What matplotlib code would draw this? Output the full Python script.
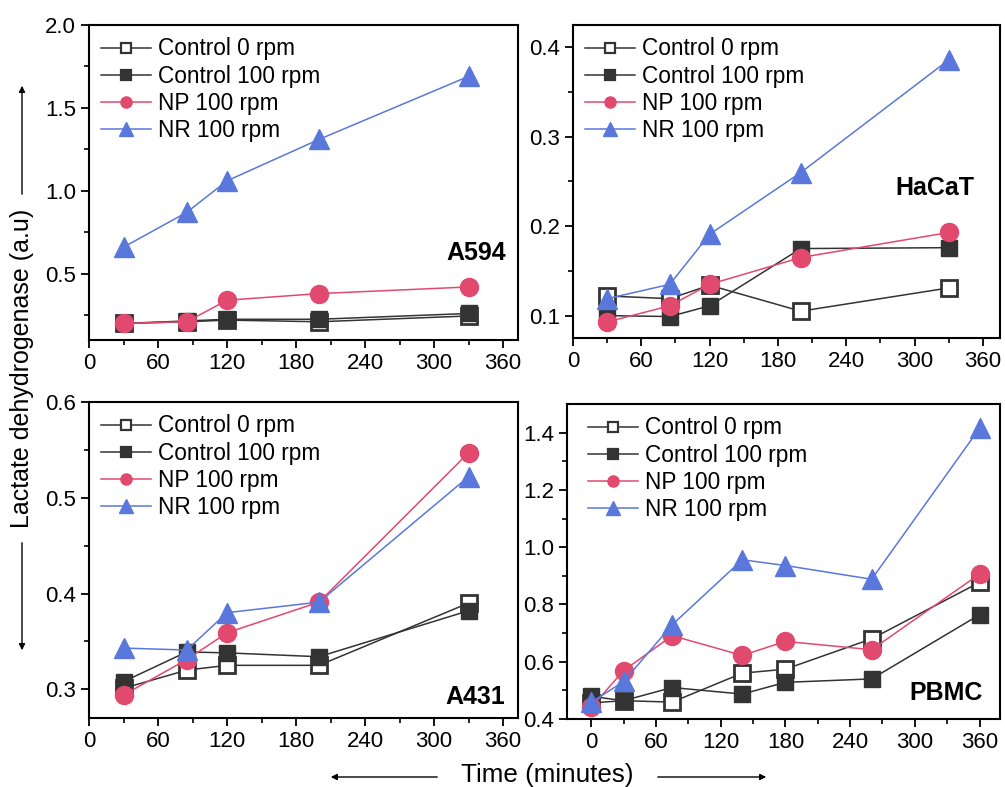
import numpy as np
import matplotlib
matplotlib.use("Agg")
import matplotlib.pyplot as plt
from matplotlib.patches import FancyArrowPatch

plt.rcParams['font.family'] = ['Liberation Sans', 'DejaVu Sans']

# data
t_std = [30, 85, 120, 200, 330]
t_pbmc = [0, 30, 75, 140, 180, 260, 360]

a594_c0 = [0.20, 0.21, 0.22, 0.21, 0.245]
a594_c100 = [0.20, 0.215, 0.225, 0.225, 0.26]
a594_np = [0.20, 0.21, 0.34, 0.38, 0.42]
a594_nr = [0.66, 0.87, 1.06, 1.31, 1.69]

hacat_c0 = [0.122, 0.119, 0.134, 0.105, 0.131]
hacat_c100 = [0.100, 0.099, 0.111, 0.175, 0.176]
hacat_np = [0.093, 0.111, 0.135, 0.165, 0.193]
hacat_nr = [0.119, 0.135, 0.191, 0.260, 0.386]

a431_c0 = [0.301, 0.320, 0.325, 0.325, 0.390]
a431_c100 = [0.308, 0.339, 0.338, 0.334, 0.382]
a431_np = [0.294, 0.331, 0.359, 0.391, 0.547]
a431_nr = [0.343, 0.341, 0.380, 0.391, 0.522]

pbmc_c0 = [0.456, 0.464, 0.459, 0.560, 0.574, 0.680, 0.877]
pbmc_c100 = [0.479, 0.464, 0.510, 0.487, 0.528, 0.540, 0.764]
pbmc_np = [0.441, 0.569, 0.691, 0.622, 0.671, 0.642, 0.906]
pbmc_nr = [0.458, 0.531, 0.729, 0.956, 0.936, 0.888, 1.415]

labels = ['Control 0 rpm', 'Control 100 rpm', 'NP 100 rpm', 'NR 100 rpm']

gray = '#333333'
pink = '#e2496f'
blue = '#5a77dc'

W, H = 1005, 787
fig = plt.figure(figsize=(W / 100, H / 100), dpi=100)


def box(l, t, r, b):
    return [l / W, 1 - b / H, (r - l) / W, (b - t) / H]


def panel(rect, t, c0, c100, npv, nrv, xlim, ylim, yticks, ymin_step, name, name_xy, leg_x=0.0):
    ax = fig.add_axes(rect)
    ax.plot(t, c0, '-s', color=gray, lw=1.1, ms=11, mfc='white', mec=gray, mew=2,
            label=labels[0], zorder=3)
    ax.plot(t, c100, '-s', color=gray, lw=1.1, ms=11, mfc=gray, mec=gray,
            label=labels[1], zorder=3)
    ax.plot(t, npv, '-o', color=pink, lw=1.1, ms=13, mfc=pink, mec=pink,
            label=labels[2], zorder=4)
    ax.plot(t, nrv, '-^', color=blue, lw=1.1, ms=14, mfc=blue, mec=blue,
            label=labels[3], zorder=5)
    ax.set_xlim(*xlim)
    ax.set_xticks(np.arange(0, 361, 60))
    ax.set_xticks(np.arange(30, 361, 60), minor=True)
    ax.set_yticks(yticks)
    ax.set_yticklabels(['%.1f' % v for v in yticks])
    ax.set_yticks(np.arange(yticks[0] - ymin_step, ylim[1], ymin_step), minor=True)
    ax.set_ylim(*ylim)
    ax.tick_params(which='major', direction='out', length=6, width=1.3, labelsize=16)
    ax.tick_params(which='minor', direction='out', length=3.5, width=1.2)
    for s in ax.spines.values():
        s.set_linewidth(1.5)
    leg = ax.legend(loc='upper left', bbox_to_anchor=(leg_x, 1.0), frameon=False,
                    fontsize=16.3, handlelength=2.2, handletextpad=0.3,
                    labelspacing=0.18, borderaxespad=0.3, borderpad=0.25)
    for h, s in zip(leg.legend_handles, [6.5, 6.5, 8, 10.5]):
        h.set_markersize(s)
    for h in leg.legend_handles[:2]:
        h.set_markeredgewidth(1.6)
    ax.text(name_xy[0], name_xy[1], name, transform=ax.transAxes, fontsize=18,
            fontweight='bold', ha='right', va='center')
    return ax


panel(box(89, 25, 518, 340), t_std, a594_c0, a594_c100, a594_np, a594_nr,
      (0, 373), (0.1, 2.0), [0.5, 1.0, 1.5, 2.0], 0.25, 'A594', (0.972, 0.276))
panel(box(573, 25, 1000, 338), t_std, hacat_c0, hacat_c100, hacat_np, hacat_nr,
      (0, 375), (0.075, 0.425), [0.1, 0.2, 0.3, 0.4], 0.05, 'HaCaT', (0.939, 0.479))
panel(box(89, 402, 518, 718), t_std, a431_c0, a431_c100, a431_np, a431_nr,
      (0, 373), (0.27, 0.6), [0.3, 0.4, 0.5, 0.6], 0.05, 'A431', (0.97, 0.067))
panel(box(567, 404, 1000, 719), t_pbmc, pbmc_c0, pbmc_c100, pbmc_np, pbmc_nr,
      (-22.5, 379), (0.4, 1.5), [0.4, 0.6, 0.8, 1.0, 1.2, 1.4], 0.1, 'PBMC', (0.961, 0.082),
      leg_x=0.02)

# axis labels with arrows
fig.text(22 / W, 1 - 368 / H, 'Lactate dehydrogenase (a.u)', rotation=90,
         ha='center', va='center', fontsize=18)
fig.text(547.5 / W, 1 - 775 / H, 'Time (minutes)', ha='center', va='center', fontsize=18.7)


def arrow(x0, y0, x1, y1):
    fig.add_artist(FancyArrowPatch((x0 / W, 1 - y0 / H), (x1 / W, 1 - y1 / H),
                                   transform=fig.transFigure, arrowstyle='-|>',
                                   mutation_scale=9, lw=1.0, color='black'))


arrow(22, 197, 22, 83)
arrow(22, 540, 22, 653)
arrow(440, 777, 328, 777)
arrow(655, 777, 769, 777)

fig.savefig('out.png', dpi=100)
